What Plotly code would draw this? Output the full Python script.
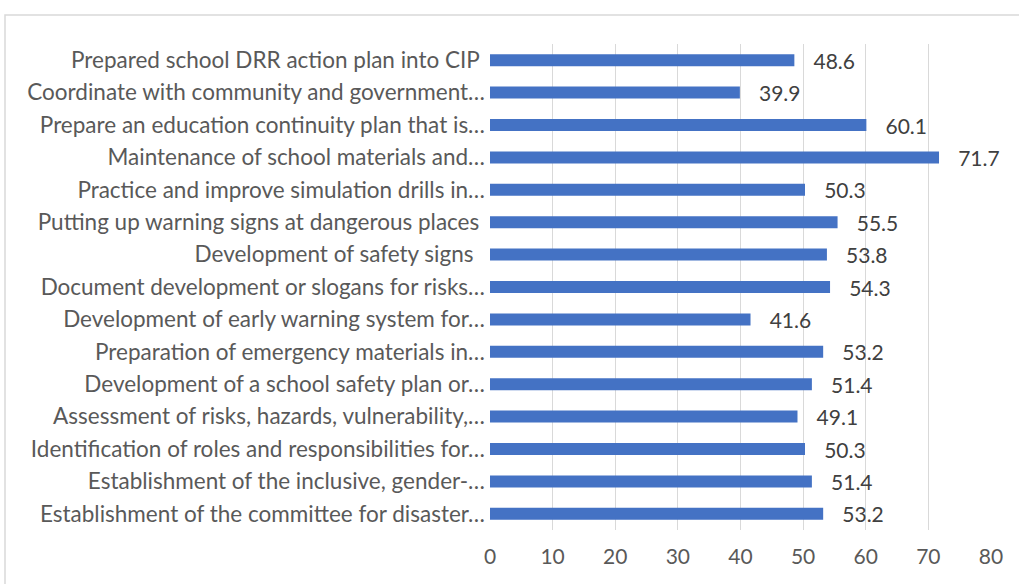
import plotly.graph_objects as go

# Share of schools (%) carrying out each disaster risk reduction activity
activities = [
    "Prepared school DRR action plan into CIP\u00a0",
    "Coordinate with community and government…",
    "Prepare an education continuity plan that is…",
    "Maintenance of school materials and…",
    "Practice and improve simulation drills in…",
    "Putting up warning signs at dangerous places\u00a0",
    "Development of safety signs\u00a0\u00a0",
    "Document development or slogans for risks…",
    "Development of early warning system for…",
    "Preparation of emergency materials in…",
    "Development of a school safety plan or…",
    "Assessment of risks, hazards, vulnerability,…",
    "Identification of roles and responsibilities for…",
    "Establishment of the inclusive, gender-…",
    "Establishment of the committee for disaster…",
]
percentages = [48.6, 39.9, 60.1, 71.7, 50.3, 55.5, 53.8, 54.3, 41.6, 53.2, 51.4, 49.1, 50.3, 51.4, 53.2]
x_ticks = [0, 10, 20, 30, 40, 50, 60, 70, 80]

W, H = 1019, 584
L, R, T, B = 490, 28, 44, 54
pw, ph = W - L - R, H - T - B
FONT = "Lato"

fig = go.Figure(
    go.Bar(
        x=percentages,
        y=activities,
        orientation="h",
        width=0.37,
        marker=dict(color="#4472C4", line=dict(width=0)),
        text=percentages,
        texttemplate="\u00a0\u00a0\u00a0%{x:.1f}",
        textposition="outside",
        constraintext="none",
        textfont=dict(family=FONT, size=21, color="#404040"),
        cliponaxis=False,
        hoverinfo="skip",
    )
)

# outer chart frame
fig.add_shape(
    type="rect", xref="paper", yref="paper",
    x0=(5 - L) / pw, x1=(W + 10 - L) / pw,
    y0=-(H + 10 - (H - B)) / ph, y1=1 + (T - 15) / ph,
    line=dict(color="#d9d9d9", width=1.5), fillcolor="rgba(0,0,0,0)", layer="below",
)

fig.update_layout(
    width=W, height=H,
    margin=dict(l=L, r=R, t=T, b=B),
    paper_bgcolor="white", plot_bgcolor="white",
    showlegend=False,
    bargap=0.63,
    xaxis=dict(
        range=[0, 80], tickvals=x_ticks, showgrid=True, gridcolor="#d9d9d9", gridwidth=1,
        zeroline=False, showline=False, ticks="",
        ticklabelstandoff=12,
        tickfont=dict(family=FONT, size=21, color="#595959"),
    ),
    yaxis=dict(
        autorange="reversed", showgrid=False, zeroline=False, showline=False, ticks="",
        ticklabelstandoff=4,
        tickfont=dict(family=FONT, size=22.5, color="#595959"),
    ),
)

fig.write_html("out.html")
